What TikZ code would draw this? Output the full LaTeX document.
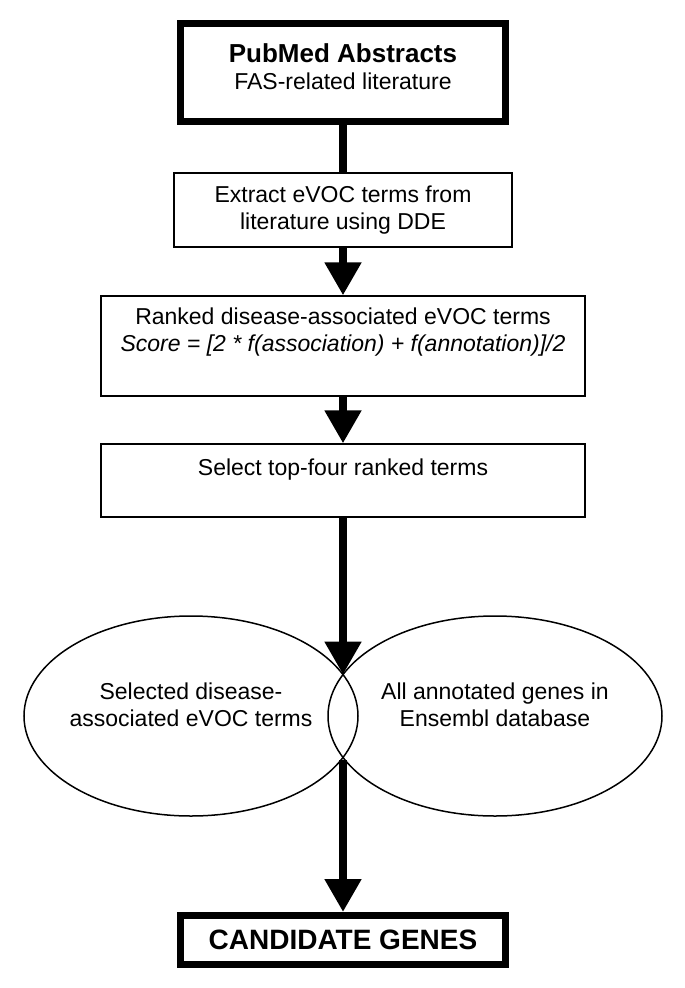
\documentclass[tikz,border=0pt]{standalone}
\usepackage{fontspec}
\setmainfont{Liberation Sans}
\usetikzlibrary{arrows.meta,shapes.geometric}

\begin{document}
\begin{tikzpicture}[x=1pt,y=-1pt,
  heavybox/.style={draw,line width=7pt,align=center,inner sep=0pt},
  plainbox/.style={draw,line width=1.3pt,align=center,inner sep=0pt},
  setell/.style={draw,ellipse,line width=1.5pt,minimum width=334pt,minimum height=200pt,inner xsep=-20pt,inner ysep=0pt,align=center},
  flow/.style={line width=8pt,-{Triangle[length=33pt,width=35pt]}},
  txt/.style={font=\fontsize{23}{27}\selectfont}]

  \useasboundingbox (0,0) rectangle (685,988);

  \node[heavybox,txt,minimum width=325pt,minimum height=98pt] (PuAb) at (343,72.5)
    {{\bfseries\fontsize{26}{28}\selectfont PubMed Abstracts}\\FAS-related literature\rule[-12pt]{0pt}{12pt}};

  \node[plainbox,txt,minimum width=338pt,minimum height=74pt] (ExTe) at (343,210)
    {Extract eVOC terms from\\literature using DDE};

  \node[plainbox,txt,minimum width=484pt,minimum height=100pt] (RaTe) at (343,346)
    {Ranked disease-associated eVOC terms\\\textit{Score = [2 * f(association) + f(annotation)]/2}\rule[-33pt]{0pt}{33pt}};

  \node[plainbox,txt,minimum width=484pt,minimum height=73pt] (SeTo) at (343,480.5)
    {Select top-four ranked terms\rule[-27pt]{0pt}{27pt}};

  % %the two sets
  \node[setell,txt] (SeTe) at (191,716)
    {Selected disease-\\associated eVOC terms\rule[-23pt]{0pt}{23pt}};
  \node[setell,txt] (EnGe) at (495,716)
    {All annotated genes in\\Ensembl database\rule[-23pt]{0pt}{23pt}};
  \coordinate (SeUp) at (343,674.6);
  \coordinate (SeLo) at (343,760);

  \node[heavybox,minimum width=325pt,minimum height=49pt,font=\bfseries\fontsize{28}{30}\selectfont] (CaGe) at (343,940)
    {CANDIDATE GENES};

  \draw[line width=8pt] (PuAb) -- (ExTe);
  \draw[flow] (ExTe) -- (RaTe);
  \draw[flow] (RaTe) -- (SeTo);
  \draw[flow] (SeTo) -- (SeUp);
  \draw[flow] (SeLo) -- (CaGe);

\end{tikzpicture}
\end{document}
